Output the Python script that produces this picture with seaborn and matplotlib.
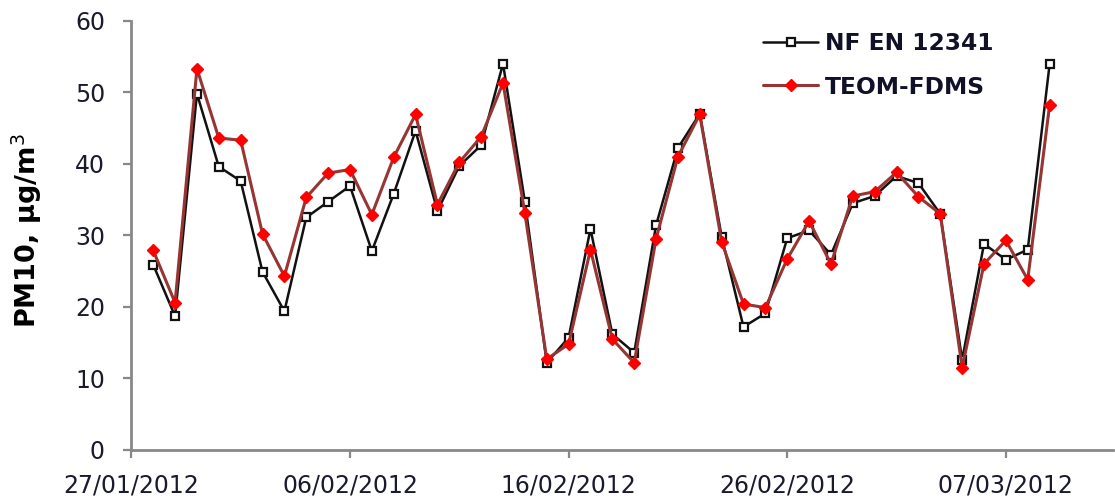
import matplotlib
matplotlib.use("Agg")
import matplotlib.pyplot as plt
import matplotlib.dates as mdates
import numpy as np
import pandas as pd
import seaborn as sns

# Daily PM10 concentrations, 28/01/2012 - 09/03/2012
start_date = "2012-01-28"
n_days = 42
nf_en_12341 = [25.9, 18.7, 49.8, 39.6, 37.6, 24.9, 19.4, 32.5, 34.7, 36.9,
               27.8, 35.8, 44.6, 33.4, 39.7, 42.6, 54.0, 34.7, 12.2, 15.7,
               30.9, 16.2, 13.6, 31.4, 42.2, 47.0, 29.8, 17.2, 19.1, 29.6,
               30.7, 27.3, 34.5, 35.5, 38.3, 37.3, 33.0, 12.6, 28.8, 26.6,
               28.0, 53.9]
teom_fdms = [27.9, 20.6, 53.3, 43.6, 43.3, 30.2, 24.3, 35.3, 38.7, 39.2,
             32.9, 40.9, 46.9, 34.3, 40.2, 43.8, 51.3, 33.1, 12.7, 14.8,
             28.0, 15.5, 12.2, 29.5, 41.0, 46.9, 29.1, 20.4, 19.9, 26.7,
             32.0, 26.0, 35.5, 36.1, 38.8, 35.4, 33.0, 11.5, 26.0, 29.3,
             23.8, 48.2]
series_names = ["NF EN 12341", "TEOM-FDMS"]
tick_dates = ["2012-01-27", "2012-02-06", "2012-02-16", "2012-02-26", "2012-03-07"]
y_ticks = [0, 10, 20, 30, 40, 50, 60]

dates = pd.date_range(start_date, periods=n_days, freq="D")
df = pd.DataFrame({"date": dates, series_names[0]: nf_en_12341,
                   series_names[1]: teom_fdms})

sns.set_theme(style="white")
plt.rcParams["font.family"] = ["DejaVu Sans"]
plt.rcParams["ytick.major.pad"] = 13
plt.rcParams["xtick.major.pad"] = 11

fig = plt.figure(figsize=(11.15, 4.98), dpi=100)
ax = fig.add_axes([0.1178, 0.0964, 0.8804, 0.862])

sns.lineplot(data=df, x="date", y=series_names[0], ax=ax, color="#111111",
             linewidth=1.8, marker="s", markersize=6.2, markerfacecolor="white",
             markeredgecolor="#111111", markeredgewidth=1.6,
             label=series_names[0], zorder=2)
sns.lineplot(data=df, x="date", y=series_names[1], ax=ax, color="#963634",
             linewidth=2.2, marker="D", markersize=6, markerfacecolor="#ff0000",
             markeredgecolor="#ff0000", markeredgewidth=1.0,
             label=series_names[1], zorder=3)

x0 = pd.Timestamp("2012-01-27")
ax.set_xlim(x0, x0 + pd.Timedelta(days=44.9))
ax.set_ylim(0, 60)
ax.set_yticks(y_ticks)
ax.set_xticks(pd.to_datetime(tick_dates))
ax.xaxis.set_major_formatter(mdates.DateFormatter("%d/%m/%Y"))

for side in ["top", "right"]:
    ax.spines[side].set_visible(False)
for side in ["left", "bottom"]:
    ax.spines[side].set_color("#888888")
    ax.spines[side].set_linewidth(2)
ax.tick_params(axis="y", which="major", direction="out", length=6, width=1.6,
               color="#888888", labelsize=17, labelcolor="#1a1a2e",
               left=True, pad=13)
ax.tick_params(axis="x", which="major", direction="out", length=6, width=1.6,
               color="#888888", labelsize=17, labelcolor="#1a1a2e",
               bottom=True, pad=11)

ax.set_xlabel("")
ax.set_ylabel("PM10, µg/m$^3$", fontsize=19.5, fontweight="bold", color="black")
ax.yaxis.label.set_va("center")
ax.yaxis.set_label_coords(-0.107, 0.512)

leg = ax.legend(loc="upper left", bbox_to_anchor=(0.6435, 0.973),
                frameon=False, handlelength=2.36, handletextpad=0.3,
                labelspacing=0.87, borderpad=0, borderaxespad=0,
                prop={"family": "DejaVu Sans", "weight": "bold", "size": 16.8})
for txt in leg.get_texts():
    txt.set_color("#101028")

fig.savefig("out.png", dpi=100)
